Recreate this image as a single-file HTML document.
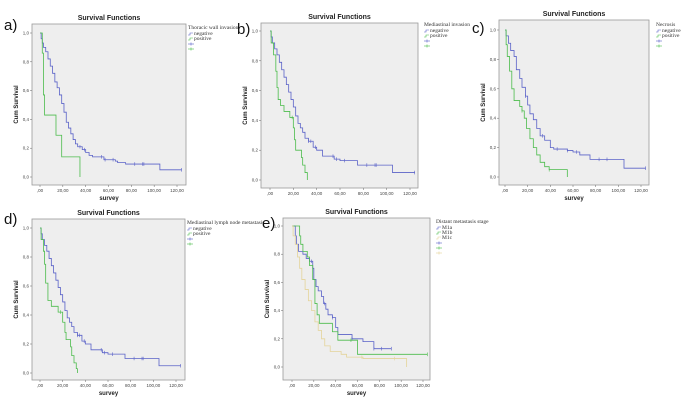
<!DOCTYPE html>
<html><head><meta charset="utf-8">
<style>
html,body{margin:0;padding:0;background:#fff;}
svg{display:block;}
.t{font-family:"Liberation Sans",sans-serif;font-weight:bold;font-size:7px;fill:#222;}
.tk{font-family:"Liberation Sans",sans-serif;font-size:4.5px;fill:#444;}
.lg{font-family:"Liberation Serif",serif;font-size:5.5px;fill:#333;}
.pl{font-family:"Liberation Sans",sans-serif;font-size:15px;fill:#111;}
</style></head>
<body>
<svg id="fig" width="686" height="413" viewBox="0 0 686 413" xmlns="http://www.w3.org/2000/svg"></svg>
<script>
// ---- data (time in months, cumulative survival) ----
const xTicks = [0,20,40,60,80,100,120];
const xTickLabels = [",00","20,00","40,00","60,00","80,00","100,00","120,00"];
const yTicks = [0,0.2,0.4,0.6,0.8,1.0];
const yTickLabels = ["0,0","0,2","0,4","0,6","0,8","1,0"];

const negA_t = [0,1,2,3,5,7,9,11,13,15,17,19,21,23,25,27,29,31,33,37,40,43,46,56,66,68,75,105,124];
const negA_s = [1,0.96,0.93,0.9,0.87,0.82,0.77,0.72,0.66,0.62,0.57,0.51,0.45,0.38,0.34,0.30,0.26,0.23,0.21,0.19,0.17,0.15,0.14,0.12,0.11,0.10,0.09,0.05,0.05];
const negA_c = [35,39,54,57,64,83,90,91,124];
const posA_t = [0,2,3,4,14,19,35];
const posA_s = [1,0.86,0.57,0.43,0.29,0.14,0.0];

const negB_t = [0,1,2,4,6,8,10,12,14,16,18,20,22,24,26,28,30,33,37,40,45,55,60,75,105,124];
const negB_s = [1,0.96,0.92,0.88,0.84,0.79,0.74,0.69,0.64,0.59,0.54,0.49,0.43,0.38,0.35,0.32,0.28,0.26,0.22,0.2,0.16,0.14,0.13,0.1,0.05,0.05];
const negB_c = [33,35,39,54,57,64,83,90,91,124];
const posB_t = [0,1,3,5,6,7,9,12,17,20,21,22,27,28,30,32];
const posB_s = [1,0.92,0.84,0.73,0.62,0.54,0.5,0.46,0.42,0.35,0.27,0.2,0.15,0.1,0.05,0.0];
const posB_c = [19];

const negC_t = [0,1,3,5,8,10,13,15,18,20,22,25,28,31,35,40,43,55,60,66,75,105,124];
const negC_s = [1,0.96,0.91,0.86,0.82,0.73,0.67,0.61,0.55,0.49,0.43,0.39,0.33,0.28,0.25,0.2,0.19,0.18,0.17,0.15,0.12,0.06,0.06];
const negC_c = [18,33,46,55,63,83,90,124];
const posC_t = [0,1,2,4,6,8,13,15,17,19,22,25,28,31,35,39,55];
const posC_s = [1,0.9,0.82,0.72,0.6,0.52,0.48,0.45,0.4,0.33,0.26,0.2,0.15,0.1,0.07,0.05,0.0];
const posC_c = [15,39];

const posD_t = [0,1,3,4,5,7,10,16,20,22,23,27,28,30,32,33];
const posD_s = [1,0.92,0.84,0.75,0.62,0.5,0.46,0.42,0.35,0.28,0.23,0.18,0.12,0.07,0.03,0.0];
const posD_c = [18];

const m1a_t = [0,3,4,6,10,13,16,19,20,22,24,27,29,31,33,37,40,42,55,65,75,91];
const m1a_s = [1,0.93,0.87,0.82,0.8,0.77,0.75,0.7,0.62,0.57,0.54,0.5,0.45,0.41,0.37,0.35,0.28,0.23,0.2,0.18,0.13,0.13];
const m1a_c = [18,30,37,55,75,82,91];
const m1b_t = [0,7,8,10,14,16,19,21,23,25,37,42,60,124];
const m1b_s = [1,0.93,0.87,0.82,0.78,0.72,0.62,0.45,0.37,0.31,0.25,0.19,0.09,0.09];
const m1b_c = [54,124];
const m1c_t = [0,1,3,5,7,9,12,15,18,21,24,27,30,35,45,50,65,105];
const m1c_s = [1,0.93,0.87,0.78,0.7,0.62,0.55,0.47,0.4,0.32,0.26,0.2,0.15,0.11,0.09,0.07,0.06,0.0];
const m1c_c = [64,94];

const BLUE="#5a62c8", GREEN="#4cbc4c", TAN="#e4d49a";
const NS="http://www.w3.org/2000/svg";
const fig=document.getElementById('fig');
function el(tag,attrs,parent,txt){const e=document.createElementNS(NS,tag);for(const k in attrs)e.setAttribute(k,attrs[k]);if(txt!==undefined)e.textContent=txt;(parent||fig).appendChild(e);return e;}

function panel(p){
  const g=el('g',{});
  
  
  const box=el('rect',{x:p.bx0,y:p.by0,width:p.bx1-p.bx0,height:p.by1-p.by0,fill:'#eeeeee',stroke:'#999','stroke-width':0.8},g);
  
  
  const X=t=>p.x0+(t/120)*(p.x120-p.x0);
  const Y=s=>p.y0+s*(p.y1-p.y0);
  const tt=el('text',{x:(p.bx0+p.bx1)/2,y:p.by0-4,'text-anchor':'middle',class:'t'},g,'Survival Functions');
  
  
  const lab=el('text',{x:p.lx,y:p.ly,class:'pl'},g,p.id+')');
  
  
  xTicks.forEach((v,i)=>{
    el('line',{x1:X(v),x2:X(v),y1:p.by1,y2:p.by1+2,stroke:'#666','stroke-width':0.5},g);
    const tx=el('text',{x:X(v),y:p.by1+7,'text-anchor':'middle',class:'tk'},g,xTickLabels[i]);
    
    
  });
  yTicks.forEach((v,i)=>{
    el('line',{x1:p.bx0,x2:p.bx0-2,y1:Y(v),y2:Y(v),stroke:'#666','stroke-width':0.5},g);
    const ty=el('text',{x:p.bx0-3,y:Y(v)+1.5,'text-anchor':'end',class:'tk'},g,yTickLabels[i]);
    
    
  });
  const yl=el('text',{x:p.bx0-14,y:(p.by0+p.by1)/2,'text-anchor':'middle',class:'t',transform:`rotate(-90 ${p.bx0-14} ${(p.by0+p.by1)/2})`,style:'font-size:6px'},g,'Cum Survival');
  
  
  if(p.showX){
    const xl=el('text',{x:(p.bx0+p.bx1)/2,y:p.by1+15,'text-anchor':'middle',class:'t',style:'font-size:6px'},g,'survey');
    
    
  }
  p.series.forEach(s=>{
    let d=`M${X(s.t[0])},${Y(s.s[0])}`;
    for(let i=1;i<s.t.length;i++){d+=` H${X(s.t[i])} V${Y(s.s[i])}`;}
    const path=el('path',{d:d,fill:'none',stroke:s.color,'stroke-width':0.8},g);
    
    
    (s.c||[]).forEach(ct=>{
      let v=s.s[0];for(let i=0;i<s.t.length;i++){if(s.t[i]<=ct)v=s.s[i];}
      el('line',{x1:X(ct),x2:X(ct),y1:Y(v)-1.8,y2:Y(v)+1.8,stroke:s.color,'stroke-width':0.6},g);
    });
  });
  // legend
  const lg=el('g',{},g);
  
  
  el('text',{x:p.gx,y:p.gy,class:'lg'},lg,p.legTitle);
  p.series.forEach((s,i)=>{
    const yy=p.gy+6+i*5;
    el('path',{d:`M${p.gx},${yy} H${p.gx+2} V${yy-2} H${p.gx+5}`,fill:'none',stroke:s.color,'stroke-width':0.6},lg);
    el('text',{x:p.gx+6,y:yy,class:'lg'},lg,s.label);
  });
  p.series.forEach((s,i)=>{
    const yy=p.gy+6+(p.series.length+i)*5-1;
    el('line',{x1:p.gx,x2:p.gx+6,y1:yy,y2:yy,stroke:s.color,'stroke-width':0.6},lg);
    el('line',{x1:p.gx+3,x2:p.gx+3,y1:yy-1.5,y2:yy+1.5,stroke:s.color,'stroke-width':0.6},lg);
  });
}

const two=(nt,ns,nc,pt,ps,pc)=>[
  {name:'negative',label:'negative',color:BLUE,t:nt,s:ns,c:nc},
  {name:'positive',label:'positive',color:GREEN,t:pt,s:ps,c:pc}];

panel({id:'a',bx0:32,by0:24,bx1:186,by1:185,x0:40,x120:177,y1:33,y0:177,lx:4,ly:30,gx:188,gy:29,showX:true,legTitle:'Thoracic wall invasion',series:two(negA_t,negA_s,negA_c,posA_t,posA_s,[])});
panel({id:'b',bx0:261,by0:23,bx1:418,by1:188,x0:270,x120:410,y1:31,y0:180,lx:237,ly:34,gx:424,gy:26,showX:false,legTitle:'Mediastinal invasion',series:two(negB_t,negB_s,negB_c,posB_t,posB_s,posB_c)});
panel({id:'c',bx0:499,by0:20,bx1:649,by1:185,x0:505,x120:641,y1:30,y0:177,lx:472,ly:33,gx:656,gy:26,showX:true,legTitle:'Necrosis',series:two(negC_t,negC_s,negC_c,posC_t,posC_s,posC_c)});
panel({id:'d',bx0:32,by0:219,bx1:185,by1:380,x0:40,x120:176,y1:228,y0:373,lx:4,ly:224,gx:187,gy:224,showX:true,legTitle:'Mediastinal lymph node metastasis',series:two(negB_t,negB_s,negB_c,posD_t,posD_s,posD_c)});
panel({id:'e',bx0:283,by0:218,bx1:430,by1:380,x0:292,x120:423,y1:226,y0:367,lx:262,ly:228,gx:436,gy:223,showX:true,legTitle:'Distant metastasis stage',series:[
  {name:'m1a',label:'M1a',color:BLUE,t:m1a_t,s:m1a_s,c:m1a_c},
  {name:'m1b',label:'M1b',color:GREEN,t:m1b_t,s:m1b_s,c:m1b_c},
  {name:'m1c',label:'M1c',color:TAN,t:m1c_t,s:m1c_s,c:m1c_c}]});
</script>
</body></html>
